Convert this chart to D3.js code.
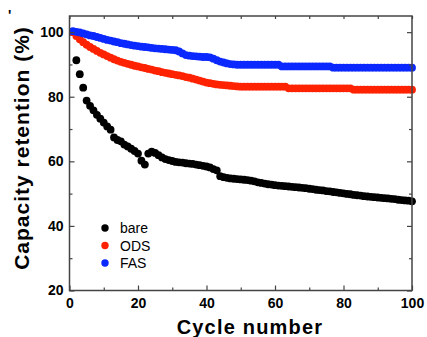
<!DOCTYPE html>
<html>
<head>
<meta charset="utf-8">
<script src="https://cdn.jsdelivr.net/npm/d3@7"></script>
<style>
  body { margin: 0; background: #fff; }
  text { font-family: "Liberation Sans", Arial, sans-serif; }
</style>
</head>
<body>
<script>
// Data (cycle 1..100)
var cycles = d3.range(1, 101);

var bare = [100, 91.3, 87.0, 82.8, 78.8, 77.2, 75.8, 74.4, 73.2, 72.0,
  70.8, 69.8, 67.4, 66.6, 66.2, 65.2, 64.6, 63.9, 63.2, 62.4,
  60.2, 59.0, 62.4, 63.0, 62.6, 61.9, 61.2, 60.7, 60.4, 60.1,
  59.8, 59.7, 59.6, 59.4, 59.3, 59.2, 59.0, 58.8, 58.6, 58.4,
  58.1, 57.6, 57.2, 55.4, 55.1, 54.9, 54.7, 54.6, 54.5, 54.4,
  54.3, 54.2, 54.0, 53.8, 53.5, 53.3, 53.1, 52.9, 52.8, 52.6,
  52.5, 52.4, 52.3, 52.2, 52.1, 52.0, 51.9, 51.8, 51.7, 51.5,
  51.4, 51.2, 51.1, 51.0, 50.8, 50.7, 50.5, 50.4, 50.2, 50.1,
  49.9, 49.8, 49.6, 49.5, 49.4, 49.2, 49.1, 49.0, 48.9, 48.8,
  48.7, 48.6, 48.5, 48.4, 48.3, 48.1, 48.0, 47.9, 47.8, 47.6];

var ods = [100, 98.8, 97.8, 96.9, 96.1, 95.4, 94.8, 94.2, 93.6, 93.1,
  92.6, 92.1, 91.6, 91.2, 90.8, 90.5, 90.2, 89.9, 89.6, 89.4,
  89.1, 88.9, 88.6, 88.4, 88.1, 87.9, 87.6, 87.4, 87.2, 87.0,
  86.8, 86.6, 86.4, 86.1, 85.9, 85.6, 85.3, 85.0, 84.7, 84.4,
  84.2, 84.0, 83.8, 83.7, 83.6, 83.5, 83.4, 83.3, 83.2, 83.1,
  83.1, 83.1, 83.1, 83.1, 83.1, 83.1, 83.1, 83.1, 83.1, 83.1,
  83.1, 83.1, 83.1, 82.6, 82.6, 82.6, 82.6, 82.6, 82.6, 82.6,
  82.6, 82.6, 82.6, 82.6, 82.6, 82.6, 82.6, 82.6, 82.6, 82.6,
  82.6, 82.6, 82.2, 82.2, 82.2, 82.2, 82.2, 82.2, 82.2, 82.2,
  82.2, 82.2, 82.2, 82.2, 82.2, 82.2, 82.2, 82.2, 82.2, 82.2];

var fas = [100.3, 100.1, 99.9, 99.6, 99.3, 99.0, 98.8, 98.5, 98.2, 97.9,
  97.6, 97.4, 97.1, 96.9, 96.6, 96.4, 96.2, 96.0, 95.8, 95.7,
  95.5, 95.4, 95.3, 95.1, 95.0, 94.9, 94.8, 94.7, 94.6, 94.5,
  94.4, 94.0, 93.4, 92.9, 92.7, 92.6, 92.5, 92.4, 92.3, 92.3,
  92.2, 91.8, 91.3, 90.9, 90.6, 90.3, 90.1, 90.0, 89.9, 89.9,
  89.9, 89.9, 89.9, 89.9, 89.9, 89.9, 89.9, 89.9, 89.9, 89.9,
  89.9, 89.4, 89.4, 89.4, 89.4, 89.4, 89.4, 89.4, 89.4, 89.4,
  89.4, 89.4, 89.4, 89.4, 89.4, 89.4, 89.0, 89.0, 89.0, 89.0,
  89.0, 89.0, 89.0, 89.0, 89.0, 89.0, 89.0, 89.0, 89.0, 89.0,
  89.0, 89.0, 89.0, 89.0, 89.0, 89.0, 89.0, 89.0, 89.0, 89.0];

var seriesNames = ["bare", "ODS", "FAS"];
var seriesColors = ["#000000", "#ff2200", "#0a28ff"];
var seriesData = [bare, ods, fas];

var xTicks = [0, 20, 40, 60, 80, 100];
var yTicks = [20, 40, 60, 80, 100];

var w = 427;
var h = 337;
var svg = d3.select("body").append("svg").attr("width", w).attr("height", h);

var x = d3.scaleLinear().domain([0, 100]).range([69.5, 412]);
var y = d3.scaleLinear().domain([20, 105]).range([290.5, 16]);

var axisColor = "#444";

// points
seriesData.forEach(function(vals, s) {
  svg.append("g")
    .selectAll("circle")
    .data(vals)
    .enter()
    .append("circle")
    .attr("cx", function(d, i) { return x(cycles[i]); })
    .attr("cy", function(d) { return y(d); })
    .attr("r", 3.9)
    .attr("fill", seriesColors[s]);
});

// axes: ticks inward on all four sides
function styleAxis(g) {
  g.select(".domain").remove();
  g.selectAll("line").attr("stroke", axisColor).attr("stroke-width", 1.2);
  g.selectAll("text").attr("fill", "#000").style("font-size", "14px").style("font-weight", "bold");
}

var xMinor = d3.range(10, 100, 20);
var yMinor = d3.range(30, 100, 20);

svg.append("g").attr("transform", "translate(0," + y(20) + ")")
  .call(d3.axisBottom(x).tickValues(xTicks).tickSize(-5).tickPadding(8))
  .call(styleAxis);
svg.append("g").attr("transform", "translate(0," + y(20) + ")")
  .call(d3.axisBottom(x).tickValues(xMinor).tickSize(-3).tickFormat(""))
  .call(styleAxis);
svg.append("g").attr("transform", "translate(0," + y(105) + ")")
  .call(d3.axisTop(x).tickValues(xTicks.concat(xMinor)).tickSize(-3).tickFormat(""))
  .call(styleAxis);

svg.append("g").attr("transform", "translate(" + x(0) + ",0)")
  .call(d3.axisLeft(y).tickValues(yTicks).tickSize(-5).tickPadding(6))
  .call(styleAxis);
svg.append("g").attr("transform", "translate(" + x(0) + ",0)")
  .call(d3.axisLeft(y).tickValues(yMinor).tickSize(-3).tickFormat(""))
  .call(styleAxis);
svg.append("g").attr("transform", "translate(" + x(100) + ",0)")
  .call(d3.axisRight(y).tickValues(yTicks).tickSize(-5).tickFormat(""))
  .call(styleAxis);
svg.append("g").attr("transform", "translate(" + x(100) + ",0)")
  .call(d3.axisRight(y).tickValues(yMinor).tickSize(-3).tickFormat(""))
  .call(styleAxis);

// frame
svg.append("rect")
  .attr("x", x(0)).attr("y", y(105))
  .attr("width", x(100) - x(0)).attr("height", y(20) - y(105))
  .attr("fill", "none").attr("stroke", axisColor).attr("stroke-width", 1.5);

// axis titles
svg.append("text")
  .attr("x", 250).attr("y", 334)
  .attr("text-anchor", "middle")
  .style("font-size", "20px").style("font-weight", "bold")
  .style("letter-spacing", "1.2px")
  .text("Cycle number");

svg.append("text")
  .attr("transform", "translate(29,148) rotate(-90)")
  .attr("text-anchor", "middle")
  .style("font-size", "21px").style("font-weight", "bold")
  .style("letter-spacing", "1px")
  .text("Capacity retention (%)");

// legend
var legend = svg.append("g");
seriesNames.forEach(function(name, i) {
  legend.append("circle")
    .attr("cx", 105).attr("cy", 228 + i * 17.5)
    .attr("r", 3.7).attr("fill", seriesColors[i]);
  legend.append("text")
    .attr("x", 120).attr("y", 233 + i * 17.5)
    .style("font-size", "14px")
    .text(name);
});

// small stray mark at the top-left corner
svg.append("text")
  .attr("x", 8).attr("y", 20)
  .style("font-size", "14px").style("font-weight", "bold")
  .text("'");
</script>
</body>
</html>
